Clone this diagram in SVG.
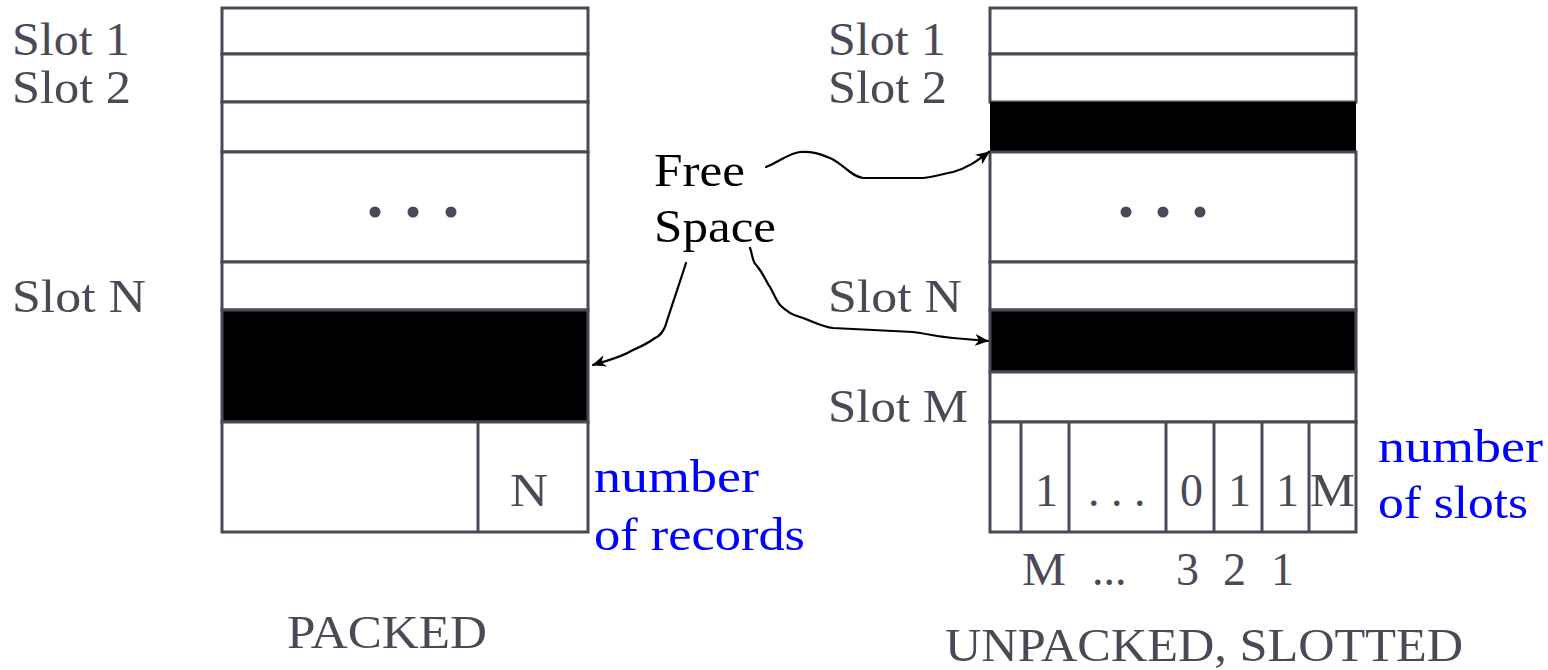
<svg xmlns="http://www.w3.org/2000/svg" width="1548" height="670" viewBox="0 0 1548 670">
  <style>
    .lbl { font-family: "Liberation Serif", "Times New Roman", serif; font-size: 46px; fill: #4a4955; }
    .blue { font-family: "Liberation Serif", "Times New Roman", serif; font-size: 46px; fill: #0000ff; }
    .free { font-family: "Liberation Serif", "Times New Roman", serif; font-size: 46px; fill: #000000; }
    .cell { fill: #ffffff; stroke: #4a4955; stroke-width: 3; }
    .used { fill: #000000; stroke: #4a4955; stroke-width: 3; }
    .dot { fill: #4a4955; }
    .conn { fill: none; stroke: #000000; stroke-width: 2.2; stroke-linecap: round; stroke-linejoin: round; marker-end: url(#head); }
  </style>
  <defs>
    <marker id="head" viewBox="0 0 14 12" refX="13" refY="6" markerWidth="14" markerHeight="12" markerUnits="userSpaceOnUse" orient="auto">
      <path d="M0,0 L14,6 L0,12 L4,6 Z" fill="#000000"/>
    </marker>
  </defs>
  <rect width="1548" height="670" fill="#ffffff"/>

  <!-- packed page -->
  <g id="packed">
    <rect class="cell" x="222" y="8" width="366" height="46"/>
    <rect class="cell" x="222" y="54" width="366" height="48"/>
    <rect class="cell" x="222" y="102" width="366" height="50"/>
    <rect class="cell" x="222" y="152" width="366" height="110"/>
    <rect class="cell" x="222" y="262" width="366" height="48"/>
    <rect class="used" x="222" y="310" width="366" height="112"/>
    <rect class="cell" x="222" y="422" width="366" height="110"/>
    <line x1="478" y1="422" x2="478" y2="532" stroke="#4a4955" stroke-width="3"/>
    <circle class="dot" cx="375" cy="212" r="5.5"/>
    <circle class="dot" cx="413" cy="212" r="5.5"/>
    <circle class="dot" cx="451" cy="212" r="5.5"/>
    <text class="lbl" x="510" y="506" textLength="38" lengthAdjust="spacingAndGlyphs">N</text>
    <text class="lbl" x="12" y="55" textLength="118" lengthAdjust="spacingAndGlyphs">Slot 1</text>
    <text class="lbl" x="12" y="103" textLength="119" lengthAdjust="spacingAndGlyphs">Slot 2</text>
    <text class="lbl" x="12" y="312" textLength="134" lengthAdjust="spacingAndGlyphs">Slot N</text>
    <text class="blue" x="594" y="492" textLength="165" lengthAdjust="spacingAndGlyphs">number</text>
    <text class="blue" x="594" y="550" textLength="211" lengthAdjust="spacingAndGlyphs">of records</text>
    <text class="lbl" x="287" y="648" textLength="200" lengthAdjust="spacingAndGlyphs">PACKED</text>
  </g>

  <!-- slotted page -->
  <g id="slotted">
    <rect class="cell" x="990" y="8" width="366" height="46"/>
    <rect class="cell" x="990" y="54" width="366" height="48"/>
    <rect x="990" y="102" width="366" height="50" fill="#000000"/>
    <rect class="cell" x="990" y="152" width="366" height="110"/>
    <rect class="cell" x="990" y="262" width="366" height="48"/>
    <rect class="used" x="990" y="310" width="366" height="62"/>
    <rect class="cell" x="990" y="372" width="366" height="50"/>
    <rect class="cell" x="990" y="422" width="366" height="110"/>
    <g stroke="#4a4955" stroke-width="3">
      <line x1="1021" y1="422" x2="1021" y2="532"/>
      <line x1="1069" y1="422" x2="1069" y2="532"/>
      <line x1="1166" y1="422" x2="1166" y2="532"/>
      <line x1="1214" y1="422" x2="1214" y2="532"/>
      <line x1="1262" y1="422" x2="1262" y2="532"/>
      <line x1="1309" y1="422" x2="1309" y2="532"/>
    </g>
    <circle class="dot" cx="1126" cy="212" r="5.5"/>
    <circle class="dot" cx="1163" cy="212" r="5.5"/>
    <circle class="dot" cx="1200" cy="212" r="5.5"/>
    <text class="lbl" x="1035" y="506">1</text>
    <text class="lbl" x="1088" y="506">. . .</text>
    <text class="lbl" x="1180" y="506">0</text>
    <text class="lbl" x="1228" y="506">1</text>
    <text class="lbl" x="1276" y="506">1</text>
    <text class="lbl" x="1310" y="506" textLength="45" lengthAdjust="spacingAndGlyphs">M</text>
    <text class="lbl" x="1022" y="585" textLength="44" lengthAdjust="spacingAndGlyphs">M</text>
    <text class="lbl" x="1092" y="585">...</text>
    <text class="lbl" x="1176" y="585">3</text>
    <text class="lbl" x="1223" y="585">2</text>
    <text class="lbl" x="1271" y="585">1</text>
    <text class="lbl" x="828" y="55" textLength="118" lengthAdjust="spacingAndGlyphs">Slot 1</text>
    <text class="lbl" x="828" y="103" textLength="119" lengthAdjust="spacingAndGlyphs">Slot 2</text>
    <text class="lbl" x="828" y="312" textLength="134" lengthAdjust="spacingAndGlyphs">Slot N</text>
    <text class="lbl" x="828" y="422" textLength="140" lengthAdjust="spacingAndGlyphs">Slot M</text>
    <text class="blue" x="1378" y="462" textLength="165" lengthAdjust="spacingAndGlyphs">number</text>
    <text class="blue" x="1378" y="518" textLength="150" lengthAdjust="spacingAndGlyphs">of slots</text>
    <text class="lbl" x="945" y="661" textLength="518" lengthAdjust="spacingAndGlyphs">UNPACKED, SLOTTED</text>
  </g>

  <!-- free space label -->
  <g id="free-space">
    <text class="free" x="654" y="186" textLength="91" lengthAdjust="spacingAndGlyphs">Free</text>
    <text class="free" x="654" y="242" textLength="122" lengthAdjust="spacingAndGlyphs">Space</text>
  </g>

  <!-- connectors from the free space label -->
  <g id="connectors">
    <path class="conn" d="M766,167 C780,161 790,153 800,152 C812,151 820,154 830,158 C845,165 850,176 863,178 L923,178 C935,177 942,174 953,172 C968,168 978,160 989,152"/>
    <path class="conn" d="M750,248 C753,256 752,262 757,266 C765,276 766,282 770,287 C774,294 776,300 780,305 C786,311 792,315 800,317 C812,321 822,327 833,328 L913,332 C928,334 940,337 953,338 C965,339 976,340 988,341"/>
    <path class="conn" d="M686,263 C680,282 672,305 665,327 C662,333 660,336 655,338 C647,344 640,347 633,350 C620,358 605,361 593,365"/>
  </g>
</svg>
